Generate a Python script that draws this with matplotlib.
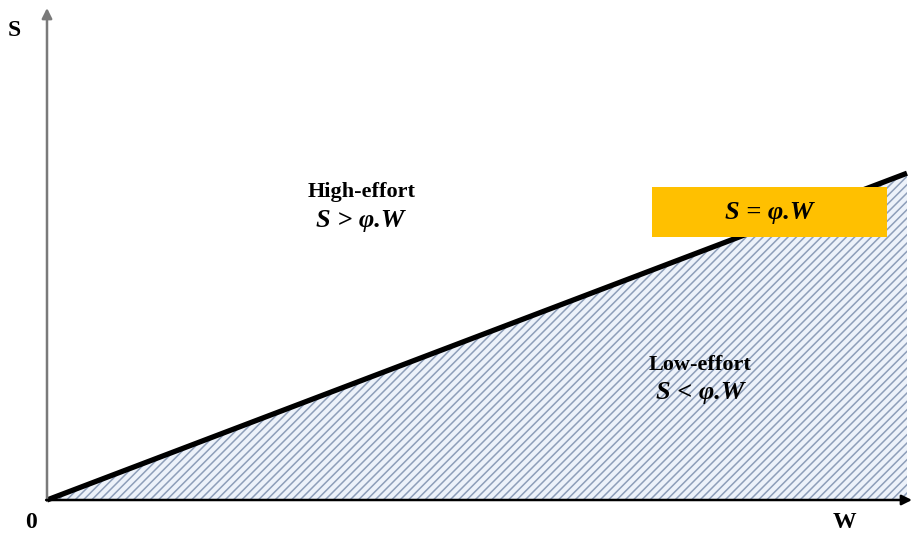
import matplotlib
matplotlib.use("Agg")
import matplotlib.pyplot as plt
from matplotlib.patches import Rectangle

# ---- data ----
w_pts = [0.0, 10.0]          # wage W
s_pts = [0.0, 3.8]           # S = phi * W  (threshold line)
labels_high = ["High-effort", "S > φ.W"]
labels_low = ["Low-effort", "S < φ.W"]
line_label = "S = φ.W"

plt.rcParams['hatch.linewidth'] = 1.1
plt.rcParams['hatch.color'] = '#8e9eb9'

fig = plt.figure(figsize=(9.14, 5.39), dpi=100)
ax = fig.add_axes([0, 0, 1, 1])
u = 86.0
ax.set_xlim(-47 / u, (914 - 47) / u)
ax.set_ylim(-39 / u, 500 / u)
ax.axis('off')

# hatched low-effort region
ax.fill_between(w_pts, 0, s_pts, facecolor='#edf2fa', edgecolor='#8e9eb9',
                hatch='////', linewidth=0, zorder=1)

# threshold line
ax.plot(w_pts, s_pts, color='black', lw=3.8, solid_capstyle='butt', zorder=3)

# axes arrows
ax.annotate('', xy=(0, (500 - 8) / u), xytext=(0, -0.01),
            arrowprops=dict(arrowstyle='-|>', color='#7a7a7a', lw=1.8,
                            mutation_scale=15, shrinkA=0, shrinkB=0), zorder=4)
ax.annotate('', xy=((912 - 47) / u, 0), xytext=(-0.01, 0),
            arrowprops=dict(arrowstyle='-|>', color='black', lw=1.8,
                            mutation_scale=15, shrinkA=0, shrinkB=0), zorder=4)

serif = 'Liberation Serif'
fs = 16
fm = 19
ax.text((14 - 47) / u, (500 - 30) / u, 'S', fontfamily=serif, fontweight='bold',
        fontsize=fs + 1, ha='center', va='center')
ax.text((31 - 47) / u, (500 - 522) / u, '0', fontfamily=serif, fontweight='bold',
        fontsize=fs + 1, ha='center', va='center')
ax.text((844 - 47) / u, (500 - 523) / u, 'W', fontfamily=serif, fontweight='bold',
        fontsize=fs + 1, ha='center', va='center')

# region labels
ax.text((362 - 47) / u, (500 - 192) / u, labels_high[0], fontfamily=serif,
        fontweight='bold', fontsize=fs, ha='center', va='center', zorder=6)
ax.text((360 - 47) / u, (500 - 221) / u, labels_high[1], fontfamily=serif,
        fontweight='bold', style='italic', fontsize=fm, ha='center', va='center', zorder=6)
ax.text((700 - 47) / u, (500 - 365) / u, labels_low[0], fontfamily=serif,
        fontweight='bold', fontsize=fs, ha='center', va='center', zorder=6)
ax.text((700 - 47) / u, (500 - 393) / u, labels_low[1], fontfamily=serif,
        fontweight='bold', style='italic', fontsize=fm, ha='center', va='center', zorder=6)

# orange label box
x0, x1 = (652 - 47) / u, (887 - 47) / u
y0, y1 = (500 - 237) / u, (500 - 187) / u
ax.add_patch(Rectangle((x0, y0), x1 - x0, y1 - y0, facecolor='#ffc000',
                       edgecolor='none', zorder=5))
ax.text((x0 + x1) / 2, (y0 + y1) / 2, line_label, fontfamily=serif,
        fontweight='bold', style='italic', fontsize=fm, ha='center', va='center', zorder=6)

fig.savefig('out.png', dpi=100)
